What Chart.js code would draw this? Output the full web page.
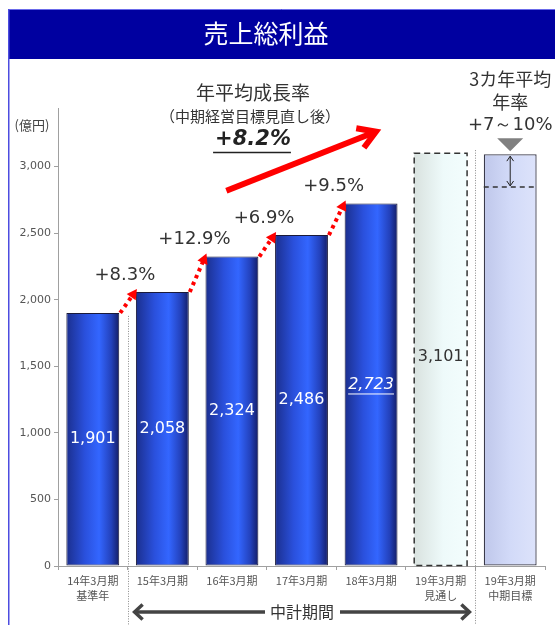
<!DOCTYPE html>
<html>
<head>
<meta charset="utf-8">
<script src="https://cdn.jsdelivr.net/npm/chart.js@4/dist/chart.umd.min.js"></script>
<style>
  html, body { margin: 0; padding: 0; background: #fff; }
  #wrap { width: 555px; height: 625px; position: relative; }
</style>
</head>
<body>
<div id="wrap"><canvas id="c" width="555" height="625"></canvas></div>
<script>
// 売上総利益（億円）
const categories = [
  ["14年3月期", "基準年"],
  ["15年3月期"],
  ["16年3月期"],
  ["17年3月期"],
  ["18年3月期"],
  ["19年3月期", "見通し"],
  ["19年3月期", "中期目標"]
];
const grossProfit = [1901, 2058, 2324, 2486, 2723, 3101, 3093];
const valueLabels = ["1,901", "2,058", "2,324", "2,486", "2,723", "3,101", ""];
const growthLabels = ["+8.3%", "+12.9%", "+6.9%", "+9.5%"];
const targetLow = 2847;           // 中期目標 下限（年率+7%）
const yTicks = [0, 500, 1000, 1500, 2000, 2500, 3000];
const cagrLines = ["年平均成長率", "（中期経営目標見直し後）", "+8.2%"];
const targetLines = ["3カ年平均", "年率", "+7～10%"];

const JP = "'Noto Sans CJK JP', 'Noto Sans', sans-serif";
const NUM = "'DejaVu Sans', 'Noto Sans', sans-serif";
const BAR_PCT = 0.76;

function barFill(c) {
  const chart = c.chart, i = c.dataIndex;
  if (i === undefined || !chart.chartArea || !chart.scales.x) return '#2a4fd8';
  const xs = chart.scales.x;
  const cx = xs.getPixelForValue(i);
  const half = xs.width / categories.length * BAR_PCT / 2;
  const g = chart.ctx.createLinearGradient(cx - half, 0, cx + half, 0);
  if (i === 5) {
    g.addColorStop(0, '#d9e2df');
    g.addColorStop(0.55, '#eefafa');
    g.addColorStop(1, '#f3fdfd');
  } else if (i === 6) {
    g.addColorStop(0, '#bfc7ea');
    g.addColorStop(0.5, '#d2daf8');
    g.addColorStop(1, '#dde3fb');
  } else {
    g.addColorStop(0, '#1b2f8e');
    g.addColorStop(0.35, '#2a50dc');
    g.addColorStop(0.62, '#3366ff');
    g.addColorStop(0.85, '#2341bb');
    g.addColorStop(1, '#141d66');
  }
  return g;
}

function text(ctx, s, x, y, font, color, align) {
  ctx.font = font;
  ctx.fillStyle = color;
  ctx.textAlign = align || 'center';
  ctx.textBaseline = 'middle';
  ctx.fillText(s, x, y);
}

function filledHead(ctx, x0, y0, x1, y1, len, wid, color) {
  const a = Math.atan2(y1 - y0, x1 - x0);
  ctx.fillStyle = color;
  ctx.beginPath();
  ctx.moveTo(x1, y1);
  ctx.lineTo(x1 - len * Math.cos(a) + wid / 2 * Math.sin(a), y1 - len * Math.sin(a) - wid / 2 * Math.cos(a));
  ctx.lineTo(x1 - len * Math.cos(a) - wid / 2 * Math.sin(a), y1 - len * Math.sin(a) + wid / 2 * Math.cos(a));
  ctx.closePath();
  ctx.fill();
}

function chevron(ctx, x1, y1, ang, len, spread) {
  ctx.beginPath();
  ctx.moveTo(x1 - len * Math.cos(ang - spread), y1 - len * Math.sin(ang - spread));
  ctx.lineTo(x1, y1);
  ctx.lineTo(x1 - len * Math.cos(ang + spread), y1 - len * Math.sin(ang + spread));
  ctx.stroke();
}

const decor = {
  id: 'decor',
  beforeDraw(chart) {
    const { ctx, width, height } = chart;
    ctx.save();
    ctx.fillStyle = '#ffffff';
    ctx.fillRect(0, 0, width, height);
    // 見出し帯
    ctx.fillStyle = '#0000a0';
    ctx.fillRect(8, 9, width - 8, 50);
    ctx.strokeStyle = '#6b6bea';
    ctx.lineWidth = 1;
    ctx.beginPath();
    ctx.moveTo(8, 9.5); ctx.lineTo(width, 9.5);
    ctx.stroke();
    ctx.strokeStyle = '#4d4de0';
    ctx.lineWidth = 1.5;
    ctx.beginPath();
    ctx.moveTo(8.75, 9); ctx.lineTo(8.75, height);
    ctx.stroke();
    text(ctx, '売上総利益', 266, 33, '25px ' + JP, '#ffffff');
    // 単位
    text(ctx, '(億円)', 32, 125, '13px ' + JP, '#444444');
    ctx.restore();
  },
  beforeDatasetsDraw(chart) {
    const { ctx } = chart;
    const xs = chart.scales.x, ys = chart.scales.y;
    ctx.save();
    ctx.strokeStyle = '#8a8a8a';
    ctx.lineWidth = 1;
    ctx.setLineDash([1, 1.5]);
    const seps = [
      [(xs.getPixelForValue(0) + xs.getPixelForValue(1)) / 2, ys.getPixelForValue(grossProfit[0]) + 3],
      [(xs.getPixelForValue(5) + xs.getPixelForValue(6)) / 2, ys.getPixelForValue(grossProfit[5]) - 3]
    ];
    seps.forEach(([x, y0]) => {
      ctx.beginPath();
      ctx.moveTo(Math.round(x) + 0.5, y0);
      ctx.lineTo(Math.round(x) + 0.5, chart.height);
      ctx.stroke();
    });
    ctx.restore();
  },
  afterDatasetsDraw(chart) {
    const { ctx } = chart;
    const xs = chart.scales.x, ys = chart.scales.y;
    const bars = chart.getDatasetMeta(0).data;
    ctx.save();

    // 見通し：破線枠
    const b6 = bars[5];
    ctx.strokeStyle = '#333333';
    ctx.lineWidth = 1.5;
    ctx.setLineDash([6, 4]);
    ctx.strokeRect(b6.x - b6.width / 2, b6.y, b6.width, b6.base - b6.y);
    ctx.setLineDash([]);

    // 棒の数値
    bars.forEach((b, i) => {
      if (!valueLabels[i]) return;
      const cy = (b.y + b.base) / 2;
      if (i === 5) {
        text(ctx, valueLabels[i], b.x, cy - 2, '16px ' + NUM, '#333333');
      } else if (i === 4) {
        text(ctx, valueLabels[i], b.x, cy, 'italic 16px ' + NUM, '#ffffff');
        const w = ctx.measureText(valueLabels[i]).width;
        ctx.strokeStyle = '#ffffff';
        ctx.lineWidth = 1;
        ctx.beginPath();
        ctx.moveTo(b.x - w / 2, cy + 9.5); ctx.lineTo(b.x + w / 2, cy + 9.5);
        ctx.stroke();
      } else {
        text(ctx, valueLabels[i], b.x, cy, '16px ' + NUM, '#ffffff');
      }
    });

    // 前年比：赤点線矢印とラベル
    growthLabels.forEach((lab, k) => {
      const p = bars[k], n = bars[k + 1];
      const x0 = p.x + p.width / 2 + 1, y0 = p.y;
      const x1 = n.x - n.width / 2 + 1, y1 = n.y - 3;
      const a = Math.atan2(y1 - y0, x1 - x0);
      ctx.strokeStyle = '#ff0000';
      ctx.lineWidth = 4;
      ctx.setLineDash([3.5, 4]);
      ctx.beginPath();
      ctx.moveTo(x0, y0);
      ctx.lineTo(x1 - 8 * Math.cos(a), y1 - 8 * Math.sin(a));
      ctx.stroke();
      ctx.setLineDash([]);
      filledHead(ctx, x0, y0, x1, y1, 10, 11, '#ff0000');
      text(ctx, lab, n.x - n.width / 2 - 11, n.y - 17, '18px ' + NUM, '#333333');
    });

    // 年平均成長率：太い赤矢印
    {
      const x0 = xs.getPixelForValue(1.92), y0 = ys.getPixelForValue(2818);
      const x1 = xs.getPixelForValue(4.07), y1 = ys.getPixelForValue(3262);
      const a = Math.atan2(y1 - y0, x1 - x0);
      ctx.strokeStyle = '#ff0000';
      ctx.lineWidth = 6;
      ctx.lineCap = 'butt';
      ctx.beginPath();
      ctx.moveTo(x0, y0);
      ctx.lineTo(x1 - 3 * Math.cos(a), y1 - 3 * Math.sin(a));
      ctx.stroke();
      ctx.lineJoin = 'miter';
      chevron(ctx, x1, y1, a, 20, 0.55);
    }
    text(ctx, cagrLines[0], 253, 93, '19px ' + JP, '#333333');
    text(ctx, cagrLines[1], 250, 116, '15px ' + JP, '#333333');
    text(ctx, cagrLines[2], 253, 140, 'italic bold 21px ' + NUM, '#222222');
    {
      ctx.font = 'italic bold 21px ' + NUM;
      const w = ctx.measureText(cagrLines[2]).width;
      ctx.strokeStyle = '#222222';
      ctx.lineWidth = 1.5;
      ctx.beginPath();
      ctx.moveTo(253 - w / 2 - 2, 152.5); ctx.lineTo(253 + w / 2, 152.5);
      ctx.stroke();
    }

    // 中期目標：下限破線と幅矢印
    const b7 = bars[6];
    const yLow = ys.getPixelForValue(targetLow);
    ctx.strokeStyle = '#333333';
    ctx.lineWidth = 1.5;
    ctx.setLineDash([5, 4]);
    ctx.beginPath();
    ctx.moveTo(b7.x - b7.width / 2, yLow); ctx.lineTo(b7.x + b7.width / 2, yLow);
    ctx.stroke();
    ctx.setLineDash([]);
    ctx.lineWidth = 1;
    ctx.strokeStyle = '#222222';
    ctx.beginPath();
    ctx.moveTo(b7.x, b7.y + 2); ctx.lineTo(b7.x, yLow - 1);
    ctx.stroke();
    chevron(ctx, b7.x, b7.y + 2, -Math.PI / 2, 6, 0.6);
    chevron(ctx, b7.x, yLow - 1, Math.PI / 2, 6, 0.6);
    // 灰色の三角
    ctx.fillStyle = '#808080';
    ctx.beginPath();
    ctx.moveTo(b7.x - 13, b7.y - 16);
    ctx.lineTo(b7.x + 13, b7.y - 16);
    ctx.lineTo(b7.x, b7.y - 3);
    ctx.closePath();
    ctx.fill();
    text(ctx, targetLines[0], b7.x, 79, '18px ' + JP, '#333333');
    text(ctx, targetLines[1], b7.x, 102, '18px ' + JP, '#333333');
    text(ctx, targetLines[2], b7.x, 125, '18px ' + NUM, '#333333');

    // 中計期間
    {
      const sx1 = (xs.getPixelForValue(0) + xs.getPixelForValue(1)) / 2 + 7;
      const sx2 = (xs.getPixelForValue(5) + xs.getPixelForValue(6)) / 2 - 6;
      const yy = 612, mid = (sx1 + sx2) / 2;
      text(ctx, '中計期間', mid, yy, '16px ' + JP, '#333333');
      ctx.strokeStyle = '#444444';
      ctx.lineWidth = 3.5;
      ctx.lineCap = 'butt';
      ctx.beginPath();
      ctx.moveTo(sx1 + 2, yy); ctx.lineTo(mid - 37, yy);
      ctx.moveTo(mid + 38, yy); ctx.lineTo(sx2 - 2, yy);
      ctx.stroke();
      ctx.lineJoin = 'miter';
      chevron(ctx, sx1, yy, Math.PI, 11, 0.75);
      chevron(ctx, sx2, yy, 0, 11, 0.75);
    }
    ctx.restore();
  }
};

new Chart(document.getElementById('c'), {
  type: 'bar',
  data: {
    labels: categories,
    datasets: [{
      data: grossProfit,
      backgroundColor: barFill,
      borderColor: ['#1a1a3a', '#1a1a3a', '#1a1a3a', '#1a1a3a', '#1a1a3a', 'rgba(0,0,0,0)', '#3a3a4a'],
      borderWidth: [1, 1, 1, 1, 1, 0, 1.3],
      borderSkipped: false,
      barPercentage: BAR_PCT,
      categoryPercentage: 1
    }]
  },
  options: {
    responsive: false,
    animation: false,
    devicePixelRatio: 1,
    layout: { padding: { left: 10, right: 10, top: 108, bottom: 0 } },
    plugins: { legend: { display: false }, tooltip: { enabled: false }, title: { display: false } },
    scales: {
      x: {
        grid: { display: true, drawOnChartArea: false, offset: true, tickLength: 4, color: '#a0a0a0' },
        border: { color: '#a0a0a0' },
        ticks: { padding: 4, color: '#555555', font: { family: JP, size: 11, lineHeight: 1.3 }, maxRotation: 0, autoSkip: false },
        afterFit(s) { s.height = 59; }
      },
      y: {
        min: 0,
        max: 3440,
        afterBuildTicks(s) { s.ticks = yTicks.map(v => ({ value: v })); },
        grid: { display: true, drawOnChartArea: false, tickLength: 4, color: '#a0a0a0' },
        border: { color: '#a0a0a0' },
        ticks: {
          padding: 3,
          color: '#555555',
          font: { family: NUM, size: 11 },
          callback: v => v.toLocaleString('en-US')
        },
        afterFit(s) { s.width = 48; }
      }
    }
  },
  plugins: [decor]
});
</script>
</body>
</html>
